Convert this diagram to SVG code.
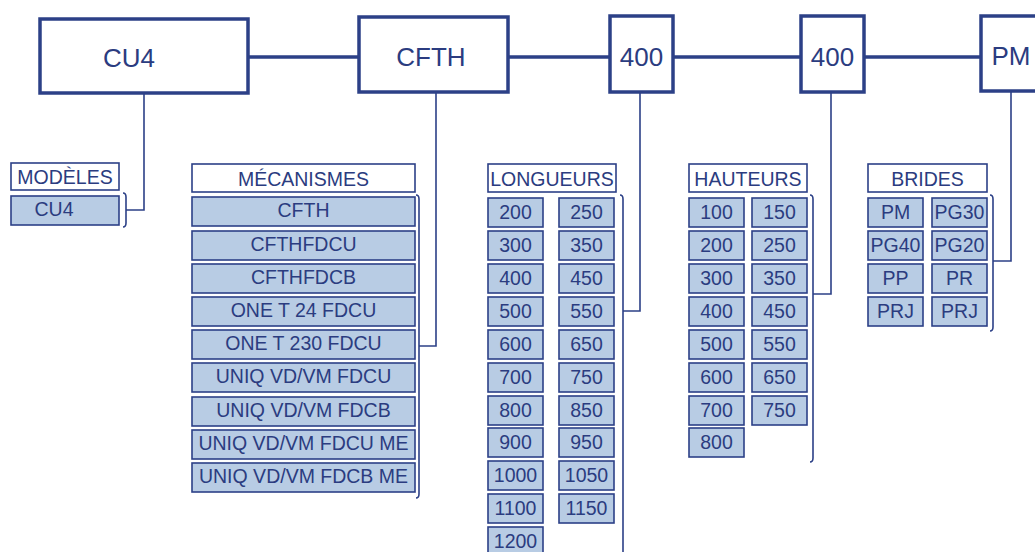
<svg xmlns="http://www.w3.org/2000/svg" width="1035" height="552" viewBox="0 0 1035 552">
<style>
.main{fill:#fff;stroke:#2c4087;stroke-width:3.5}
.hdr{fill:#fff;stroke:#2c4087;stroke-width:1.6}
.item{fill:#b8cce4;stroke:#2c4087;stroke-width:1.6}
.big{font-family:"Liberation Sans",Arial,sans-serif;font-size:26px;fill:#2b3c80;text-anchor:middle}
.sm{font-family:"Liberation Sans",Arial,sans-serif;font-size:19.5px;fill:#2b3c80;text-anchor:middle}
.thick{stroke:#2c4087;stroke-width:3.5;fill:none}
.thin{stroke:#2c4087;stroke-width:1.6;fill:none}
</style>
<rect width="1035" height="552" fill="#fff"/>
<g id="connectors">
<path class="thick" d="M248,57H359M508,57H610M673,57H801M864,57H981"/>
<path class="thin" d="M144,93V210H126M436,92V346H419M640,92V311H623M831,92V294H813M1011,91V261H993"/>
<path class="thin" d="M123,193Q126,193 126,197V223Q126,227 123,227"/>
<path class="thin" d="M416,195Q419,195 419,199V494Q419,498 416,498"/>
<path class="thin" d="M620,195Q623,195 623,199V560"/>
<path class="thin" d="M810,195Q813,195 813,199V458Q813,462 810,462"/>
<path class="thin" d="M990,195Q993,195 993,199V327Q993,331 990,331"/>
</g>
<g id="n-cu4"><rect class="main" x="40" y="19" width="208" height="74"/><text class="big" x="129" y="67">CU4</text></g>
<g id="n-cfth"><rect class="main" x="359" y="17" width="149" height="75"/><text class="big" x="431" y="66">CFTH</text></g>
<g id="n-400a"><rect class="main" x="610" y="16" width="63" height="76"/><text class="big" x="641.5" y="66">400</text></g>
<g id="n-400b"><rect class="main" x="801" y="16" width="63" height="76"/><text class="big" x="832.5" y="66">400</text></g>
<g id="n-pm"><rect class="main" x="981" y="16" width="70" height="75"/><text class="big" x="1011" y="65">PM</text></g>
<g id="modeles">
<rect class="hdr" x="11" y="163" width="108" height="27"/><text class="sm" x="65" y="184">MODÈLES</text>
<rect class="item" x="11" y="196" width="108" height="29"/><text class="sm" x="54" y="216">CU4</text>
</g>
<g id="mecanismes">
<rect class="hdr" x="192" y="164" width="223" height="28"/><text class="sm" x="303.5" y="186">MÉCANISMES</text>
<rect class="item" x="192" y="197" width="223" height="29"/><text class="sm" x="303.5" y="217">CFTH</text>
<rect class="item" x="192" y="231" width="223" height="29"/><text class="sm" x="303.5" y="251">CFTHFDCU</text>
<rect class="item" x="192" y="264" width="223" height="29"/><text class="sm" x="303.5" y="284">CFTHFDCB</text>
<rect class="item" x="192" y="297" width="223" height="29"/><text class="sm" x="303.5" y="317">ONE T 24 FDCU</text>
<rect class="item" x="192" y="330" width="223" height="29"/><text class="sm" x="303.5" y="350">ONE T 230 FDCU</text>
<rect class="item" x="192" y="363" width="223" height="29"/><text class="sm" x="303.5" y="383">UNIQ VD/VM FDCU</text>
<rect class="item" x="192" y="397" width="223" height="29"/><text class="sm" x="303.5" y="417">UNIQ VD/VM FDCB</text>
<rect class="item" x="192" y="430" width="223" height="29"/><text class="sm" x="303.5" y="450">UNIQ VD/VM FDCU ME</text>
<rect class="item" x="192" y="463" width="223" height="29"/><text class="sm" x="303.5" y="483">UNIQ VD/VM FDCB ME</text>
</g>
<g id="longueurs">
<rect class="hdr" x="488" y="164" width="128" height="28"/><text class="sm" x="552" y="186">LONGUEURS</text>
<rect class="item" x="488" y="198" width="55" height="29"/><text class="sm" x="515.5" y="219">200</text>
<rect class="item" x="488" y="231" width="55" height="29"/><text class="sm" x="515.5" y="252">300</text>
<rect class="item" x="488" y="264" width="55" height="29"/><text class="sm" x="515.5" y="285">400</text>
<rect class="item" x="488" y="297" width="55" height="29"/><text class="sm" x="515.5" y="318">500</text>
<rect class="item" x="488" y="330" width="55" height="29"/><text class="sm" x="515.5" y="351">600</text>
<rect class="item" x="488" y="363" width="55" height="29"/><text class="sm" x="515.5" y="384">700</text>
<rect class="item" x="488" y="396" width="55" height="29"/><text class="sm" x="515.5" y="417">800</text>
<rect class="item" x="488" y="428" width="55" height="29"/><text class="sm" x="515.5" y="449">900</text>
<rect class="item" x="488" y="461" width="55" height="29"/><text class="sm" x="515.5" y="482">1000</text>
<rect class="item" x="488" y="494" width="55" height="29"/><text class="sm" x="515.5" y="515">1100</text>
<rect class="item" x="488" y="527" width="55" height="29"/><text class="sm" x="515.5" y="548">1200</text>
<rect class="item" x="559" y="198" width="55" height="29"/><text class="sm" x="586.5" y="219">250</text>
<rect class="item" x="559" y="231" width="55" height="29"/><text class="sm" x="586.5" y="252">350</text>
<rect class="item" x="559" y="264" width="55" height="29"/><text class="sm" x="586.5" y="285">450</text>
<rect class="item" x="559" y="297" width="55" height="29"/><text class="sm" x="586.5" y="318">550</text>
<rect class="item" x="559" y="330" width="55" height="29"/><text class="sm" x="586.5" y="351">650</text>
<rect class="item" x="559" y="363" width="55" height="29"/><text class="sm" x="586.5" y="384">750</text>
<rect class="item" x="559" y="396" width="55" height="29"/><text class="sm" x="586.5" y="417">850</text>
<rect class="item" x="559" y="428" width="55" height="29"/><text class="sm" x="586.5" y="449">950</text>
<rect class="item" x="559" y="461" width="55" height="29"/><text class="sm" x="586.5" y="482">1050</text>
<rect class="item" x="559" y="494" width="55" height="29"/><text class="sm" x="586.5" y="515">1150</text>
</g>
<g id="hauteurs">
<rect class="hdr" x="689" y="164" width="118" height="28"/><text class="sm" x="748" y="186">HAUTEURS</text>
<rect class="item" x="689" y="198" width="55" height="29"/><text class="sm" x="716.5" y="219">100</text>
<rect class="item" x="689" y="231" width="55" height="29"/><text class="sm" x="716.5" y="252">200</text>
<rect class="item" x="689" y="264" width="55" height="29"/><text class="sm" x="716.5" y="285">300</text>
<rect class="item" x="689" y="297" width="55" height="29"/><text class="sm" x="716.5" y="318">400</text>
<rect class="item" x="689" y="330" width="55" height="29"/><text class="sm" x="716.5" y="351">500</text>
<rect class="item" x="689" y="363" width="55" height="29"/><text class="sm" x="716.5" y="384">600</text>
<rect class="item" x="689" y="396" width="55" height="29"/><text class="sm" x="716.5" y="417">700</text>
<rect class="item" x="689" y="428" width="55" height="29"/><text class="sm" x="716.5" y="449">800</text>
<rect class="item" x="752" y="198" width="55" height="29"/><text class="sm" x="779.5" y="219">150</text>
<rect class="item" x="752" y="231" width="55" height="29"/><text class="sm" x="779.5" y="252">250</text>
<rect class="item" x="752" y="264" width="55" height="29"/><text class="sm" x="779.5" y="285">350</text>
<rect class="item" x="752" y="297" width="55" height="29"/><text class="sm" x="779.5" y="318">450</text>
<rect class="item" x="752" y="330" width="55" height="29"/><text class="sm" x="779.5" y="351">550</text>
<rect class="item" x="752" y="363" width="55" height="29"/><text class="sm" x="779.5" y="384">650</text>
<rect class="item" x="752" y="396" width="55" height="29"/><text class="sm" x="779.5" y="417">750</text>
</g>
<g id="brides">
<rect class="hdr" x="868" y="164" width="119" height="28"/><text class="sm" x="927.5" y="186">BRIDES</text>
<rect class="item" x="868" y="198" width="55" height="29"/><text class="sm" x="895.5" y="219">PM</text>
<rect class="item" x="868" y="231" width="55" height="29"/><text class="sm" x="895.5" y="252">PG40</text>
<rect class="item" x="868" y="264" width="55" height="29"/><text class="sm" x="895.5" y="285">PP</text>
<rect class="item" x="868" y="297" width="55" height="29"/><text class="sm" x="895.5" y="318">PRJ</text>
<rect class="item" x="932" y="198" width="55" height="29"/><text class="sm" x="959.5" y="219">PG30</text>
<rect class="item" x="932" y="231" width="55" height="29"/><text class="sm" x="959.5" y="252">PG20</text>
<rect class="item" x="932" y="264" width="55" height="29"/><text class="sm" x="959.5" y="285">PR</text>
<rect class="item" x="932" y="297" width="55" height="29"/><text class="sm" x="959.5" y="318">PRJ</text>
</g>
</svg>
